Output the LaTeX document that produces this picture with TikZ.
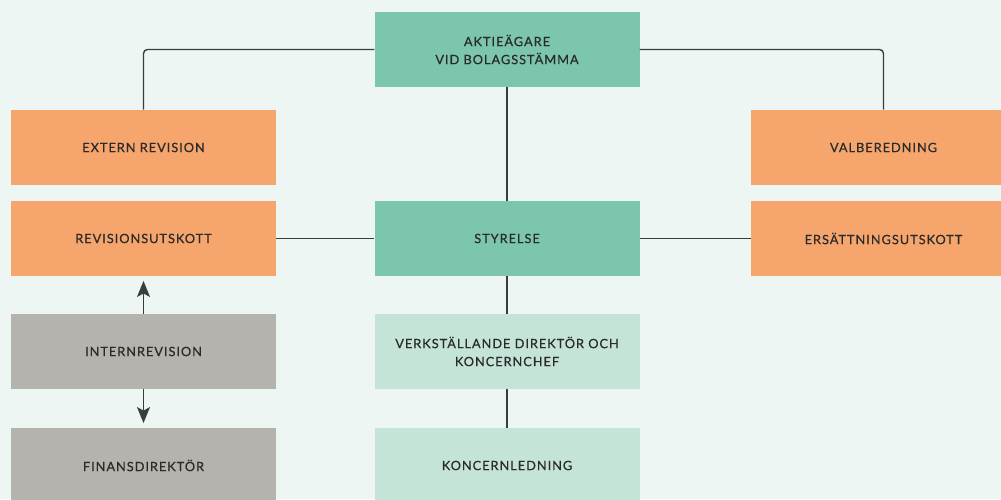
\documentclass[tikz,border=0pt]{standalone}
\usepackage{fontspec}
\setmainfont{Lato}
\newfontfamily\boxfont[LetterSpace=7.5,FakeBold=0.4]{Lato}
\usetikzlibrary{arrows.meta}
\definecolor{bgc}{HTML}{EDF6F2}
\definecolor{grn}{HTML}{7CC6AD}
\definecolor{lgrn}{HTML}{C5E4D8}
\definecolor{org}{HTML}{F6A66D}
\definecolor{gry}{HTML}{B5B3AE}
\definecolor{txt}{HTML}{2A2A2A}
\definecolor{lnc}{HTML}{3A3D3D}
\tikzset{
  box/.style={rectangle, inner sep=0pt, minimum width=265pt, minimum height=75.5pt,
    font=\boxfont\fontsize{12.8}{18}\selectfont, text=txt, align=center},
  conn/.style={draw=lnc, line width=1.4pt},
  arr/.style={conn, -{Stealth[length=16pt,width=13pt,inset=3.5pt]}, shorten >=4.5pt}
}
\begin{document}
\begin{tikzpicture}[x=1pt,y=-1pt]
\fill[bgc] (0,0) rectangle (1001,499);
\useasboundingbox (0,0) rectangle (1001,499);
\node[box, fill=grn]  (top)  at (507,49.5)   {AKTIEÄGARE\\VID BOLAGSSTÄMMA};
\node[box, fill=org]  (ext)  at (143.5,147.5) {EXTERN REVISION};
\node[box, fill=org]  (rev)  at (143.5,238.5) {REVISIONSUTSKOTT};
\node[box, fill=gry]  (intr) at (143.5,351.5) {INTERNREVISION};
\node[box, fill=gry]  (fin)  at (143.5,465.5) {FINANSDIREKTÖR};
\node[box, fill=grn]  (sty)  at (507,238.5)   {STYRELSE};
\node[box, fill=lgrn] (vd)   at (507,351.5)   {VERKSTÄLLANDE DIREKTÖR OCH\\KONCERNCHEF};
\node[box, fill=lgrn] (kl)   at (507,465.5)   {KONCERNLEDNING};
\node[box, fill=org]  (val)  at (883.5,147.5) {VALBEREDNING};
\node[box, fill=org]  (ers)  at (883.5,238.5) {ERSÄTTNINGSUTSKOTT};
\draw[conn, rounded corners=4pt] (top.west) -| (ext.north);
\draw[conn, rounded corners=4pt] (top.east) -| (val.north);
\draw[conn] (top.south) -- (sty.north);
\draw[conn] (rev.east) -- (sty.west);
\draw[conn] (sty.east) -- (ers.west);
\draw[conn] (sty.south) -- (vd.north);
\draw[conn] (vd.south) -- (kl.north);
\draw[arr] (intr.north) -- (rev.south);
\draw[arr] (intr.south) -- (fin.north);
\end{tikzpicture}
\end{document}
